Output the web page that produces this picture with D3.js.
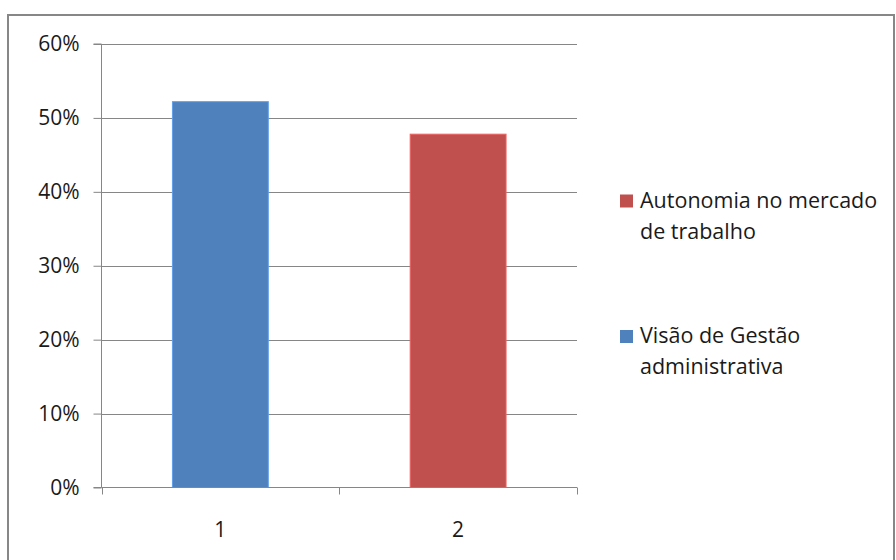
<!DOCTYPE html>
<html><head><meta charset="utf-8">
<script src="https://cdn.jsdelivr.net/npm/d3@7"></script>
<style>body{margin:0;background:#fff}svg{display:block}</style>
</head><body>
<script>
const categories = ["1", "2"];
const values = [52.2, 47.8];
const seriesNames = ["Visão de Gestão administrativa", "Autonomia no mercado de trabalho"];
const legendLines = [["Autonomia no mercado", "de trabalho"], ["Visão de Gestão", "administrativa"]];
const legendOrder = [1, 0];
const colors = ["#4F81BD", "#C0504D"];
const yTicks = [0, 10, 20, 30, 40, 50, 60];

(function () {
const W = 896, H = 560;
const svg = d3.select("body").append("svg").attr("width", W).attr("height", H);
const font = "'Open Sans', sans-serif";
const ink = "#1a1a1a";

svg.append("rect").attr("x", 8).attr("y", 15).attr("width", 886).attr("height", 550)
  .attr("fill", "#fff").attr("stroke", "#878787").attr("stroke-width", 2);

const pL = 101.5, pR = 577, pT = 44, pB = 487.5;
const x = d3.scaleBand().domain(categories).range([pL, pR]).paddingInner(0.5968).paddingOuter(0.2984);
const y = d3.scaleLinear().domain([0, 60]).range([pB, pT]);

svg.append("g").selectAll("line").data(yTicks.filter(d => d > 0)).join("line")
  .attr("x1", pL).attr("x2", pR).attr("y1", d => Math.round(y(d)) + 0.5).attr("y2", d => Math.round(y(d)) + 0.5)
  .attr("stroke", "#868686").attr("stroke-width", 1);

const yAxis = svg.append("g").attr("transform", `translate(${pL},0)`)
  .call(d3.axisLeft(y).tickValues(yTicks).tickFormat(d => d + "%").tickSize(8).tickPadding(14));
yAxis.select(".domain").attr("stroke", "#868686").attr("d", `M-8,${pB}H0V${pT}H-8`);
yAxis.selectAll(".tick line").attr("stroke", "#868686");
yAxis.selectAll(".tick text").attr("font-family", font).attr("font-size", 21).attr("fill", ink);

svg.append("g").selectAll("rect").data(values).join("rect")
  .attr("x", (d, i) => x(categories[i])).attr("width", x.bandwidth())
  .attr("y", d => y(d)).attr("height", d => y(0) - y(d))
  .attr("fill", (d, i) => colors[i]).attr("stroke", (d, i) => d3.color(colors[i]).brighter(0.6)).attr("stroke-width", 1);

const step = (pR - pL) / categories.length;
const xAxis = svg.append("g").attr("transform", `translate(0,${pB})`);
xAxis.append("line").attr("x1", pL).attr("x2", pR).attr("y1", 0).attr("y2", 0).attr("stroke", "#868686");
xAxis.selectAll("line.t").data(d3.range(categories.length + 1)).join("line").attr("class", "t")
  .attr("x1", i => Math.round(pL + i * step) + 0.5).attr("x2", i => Math.round(pL + i * step) + 0.5)
  .attr("y1", 0).attr("y2", 7).attr("stroke", "#868686");
xAxis.selectAll("text").data(categories).join("text")
  .attr("x", d => x(d) + x.bandwidth() / 2).attr("y", 49)
  .attr("text-anchor", "middle").attr("font-family", font).attr("font-size", 21).attr("fill", ink).text(d => d);

const lg = svg.append("g");
const legY = [194.5, 330];
legendOrder.forEach((si, k) => {
  const g = lg.append("g").attr("transform", `translate(620,${legY[k]})`);
  g.append("rect").attr("width", 13).attr("height", 13).attr("fill", colors[si]);
  legendLines[k].forEach((t, j) => {
    g.append("text").attr("x", 20).attr("y", 13 + j * 31).attr("font-family", font)
      .attr("font-size", 21.5).attr("fill", ink).text(t);
  });
});
})();
</script>
</body></html>
